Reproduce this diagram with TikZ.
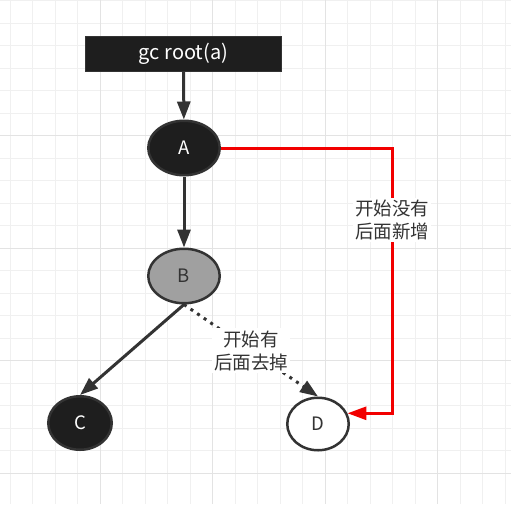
\documentclass[tikz,border=0pt]{standalone}
\usepackage{fontspec}
\setmainfont{Noto Sans CJK SC}
\usetikzlibrary{shapes.geometric,arrows.meta}
\definecolor{ink}{HTML}{333333}
\definecolor{nodefill}{HTML}{1E1E1E}
\definecolor{graynode}{HTML}{A0A0A0}
\definecolor{alert}{HTML}{F20000}
\begin{document}
\begin{tikzpicture}[
    x=1pt, y=-1pt,
    font=\fontsize{18.5}{23}\selectfont,
    gridline/.style={draw=gray!12, line width=0.8pt},
    gridmajor/.style={draw=gray!22, line width=0.8pt},
    obj/.style={ellipse, draw=ink, line width=2.5pt, minimum width=71.5pt, minimum height=54.5pt, inner sep=0pt},
    ref/.style={draw=ink, line width=3pt, -{Triangle[length=18pt,width=13pt]}},
    note/.style={fill=white, align=center, text=ink, inner sep=2pt}
]

% background grid
\fill[white] (0,0) rectangle (511,504);
\useasboundingbox (0,0) rectangle (511,504);
\foreach \gx in {0,...,22}
    \draw[gridline] (10+22.5*\gx,0) -- (10+22.5*\gx,504);
\foreach \gy in {0,...,21}
    \draw[gridline] (0,0.5+22.5*\gy) -- (511,0.5+22.5*\gy);
\foreach \gx in {100,212.5,325,437.5}
    \draw[gridmajor] (\gx,0) -- (\gx,504);
\foreach \gy in {135.5,248,360.5,473}
    \draw[gridmajor] (0,\gy) -- (511,\gy);

% gc root
\node[draw=ink, fill=nodefill, line width=1pt, minimum width=196pt, minimum height=35pt, text=white, font=\fontsize{20}{23}\selectfont] (root) at (183.5,54) {gc root(a)};

% objects
\node[obj, fill=nodefill, text=white] (A) at (184,148) {A};
\node[obj, fill=graynode, text=ink] (B) at (184,276) {B};
\node[obj, fill=nodefill, text=white, minimum width=63.5pt, minimum height=53.5pt] (C) at (80,423) {C};
\node[obj, fill=white, text=ink, minimum width=61.5pt, minimum height=52.5pt] (D) at (318,424) {D};

% references
\draw[ref] (root) -- (A);
\draw[ref] (A) -- (B);
\draw[ref] (B.south) -- (C.north);
\draw[ref, dash pattern=on 3pt off 5pt] (B.south) -- node[note] {开始有\\后面去掉} (D.north);

% new reference from A to D
\coordinate (bend) at (392,148);
\draw[ref, draw=alert, -{Triangle[length=19pt,width=13pt]}] (A.east) -- (bend) -- node[note, pos=0.27] {开始没有\\后面新增} (bend |- D.20) -- (D.20);

\end{tikzpicture}
\end{document}
